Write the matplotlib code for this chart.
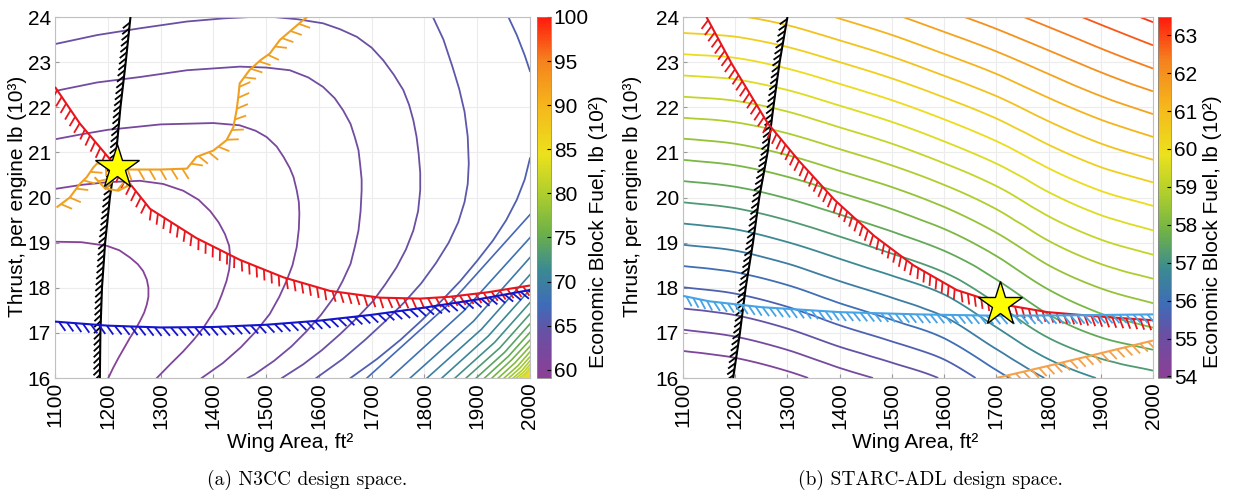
import numpy as np
import matplotlib
matplotlib.use("Agg")
import matplotlib.pyplot as plt
import matplotlib.tri as mtri
from matplotlib.colors import LinearSegmentedColormap, Normalize
from matplotlib.collections import LineCollection
from matplotlib.cm import ScalarMappable

plt.rcParams["font.family"] = ["Liberation Sans", "DejaVu Sans"]

wing_area = [1100, 1200, 1300, 1400, 1500, 1600, 1700, 1800, 1900, 2000]
thrust = [16, 17, 18, 19, 20, 21, 22, 23, 24]

# (a) N3CC fuel contours (level in 10^2 lb)
c60_area = [1100, 1150, 1198, 1222, 1242, 1257, 1267, 1274, 1277, 1277, 1274, 1269, 1261, 1252, 1242, 1220, 1210, 1201]
c60_thrust = [19.02, 19.01, 18.93, 18.83, 18.67, 18.52, 18.37, 18.18, 18.0, 17.8, 17.63, 17.45, 17.26, 17.07, 16.89, 16.44, 16.22, 16.0]
c61_area = [1100, 1150, 1200, 1261, 1305, 1343, 1372, 1394, 1410, 1422, 1430, 1432, 1430, 1425, 1416, 1406, 1381, 1363, 1343, 1318, 1293]
c61_thrust = [20.19, 20.28, 20.34, 20.37, 20.3, 20.15, 19.95, 19.7, 19.45, 19.19, 18.93, 18.67, 18.4, 18.15, 17.85, 17.56, 17.11, 16.85, 16.59, 16.3, 16.0]
c62_area = [1100, 1150, 1200, 1300, 1400, 1450, 1480, 1501, 1520, 1533, 1545, 1552, 1558, 1562, 1563, 1562, 1558,
            1550, 1539, 1525, 1507, 1482, 1452, 1418, 1378]
c62_thrust = [21.29, 21.4, 21.5, 21.62, 21.65, 21.6, 21.48, 21.34, 21.13, 20.9, 20.65, 20.45, 20.16, 19.9, 19.64, 19.3, 18.9,
              18.5, 18.16, 17.8, 17.42, 17.05, 16.68, 16.33, 16.0]
c63_area = [1100, 1180, 1261, 1350, 1450, 1500, 1545, 1580, 1608, 1630, 1646, 1660, 1668, 1675, 1678, 1681, 1681, 1679,
            1675, 1668, 1660, 1645, 1628, 1604, 1577, 1548, 1515, 1478, 1465]
c63_thrust = [22.36, 22.55, 22.67, 22.82, 22.9, 22.88, 22.82, 22.66, 22.45, 22.2, 21.93, 21.63, 21.34, 21.05, 20.75, 20.4, 20.16, 19.7,
              19.27, 18.9, 18.53, 18.15, 17.78, 17.4, 17.04, 16.7, 16.38, 16.08, 16.0]
c64_area = [1100, 1180, 1261, 1350, 1420, 1470, 1514, 1560, 1608, 1640, 1672, 1700, 1722, 1742, 1760, 1771, 1779, 1785,
            1789, 1792, 1792, 1788, 1779, 1765, 1747, 1726, 1703, 1672, 1640, 1606, 1570, 1530]
c64_thrust = [23.4, 23.6, 23.75, 23.9, 23.97, 24.0, 24.0, 23.95, 23.86, 23.73, 23.56, 23.32, 23.04, 22.72, 22.38, 22.05, 21.71, 21.35,
              20.97, 20.55, 20.16, 19.7, 19.27, 18.85, 18.45, 18.08, 17.71, 17.33, 16.97, 16.62, 16.3, 16.0]
c65_area = [1816, 1836, 1853, 1866, 1876, 1882, 1884, 1882, 1876, 1864, 1846, 1822, 1794, 1762, 1725, 1688, 1645, 1595]
c65_thrust = [24.0, 23.5, 22.9, 22.4, 21.9, 21.35, 20.75, 20.3, 19.9, 19.45, 19.0, 18.55, 18.1, 17.68, 17.25, 16.85, 16.42, 16.0]
c66_top_area = [1959, 1975, 1990, 2000]
c66_top_thrust = [24.0, 23.6, 23.15, 22.8]
c66_low_area = [2000, 1990, 1975, 1955, 1930, 1900, 1868, 1833, 1795, 1755, 1710, 1660]
c66_low_thrust = [20.87, 20.4, 19.95, 19.5, 19.05, 18.6, 18.15, 17.72, 17.28, 16.85, 16.42, 16.0]
# dense lines in the lower-right corner: bottom crossing, bend point, right-edge crossing
corner_levels = [67, 68, 69, 70, 71, 72, 73, 74, 75, 76, 77, 78, 79, 80, 81, 82, 83, 84, 85, 86]
corner_bottom_area = [1691, 1735, 1773, 1805, 1833, 1858, 1879, 1898, 1914, 1928,
                      1940, 1951, 1960, 1968, 1974, 1980, 1985, 1989, 1993, 1996]
corner_mid_area = [1854, 1874, 1893, 1908, 1921, 1933, 1943, 1952, 1959, 1965,
                   1971, 1977, 1981, 1985, 1988, 1991, 1993, 1995, 1997, 1998]
corner_mid_thrust = [17.72, 17.48, 17.26, 17.08, 16.93, 16.79, 16.67, 16.57, 16.48, 16.40,
                     16.33, 16.27, 16.22, 16.17, 16.13, 16.10, 16.08, 16.06, 16.04, 16.02]
corner_edge_thrust = [19.62, 19.11, 18.67, 18.29, 17.96, 17.67, 17.42, 17.20, 17.01, 16.84,
                      16.70, 16.58, 16.47, 16.38, 16.30, 16.23, 16.18, 16.13, 16.08, 16.04]

# (b) STARC-ADL economic block fuel (10^2 lb), rows = thrust, cols = wing area
fuel_starc = [
    [53.89, 54.02, 54.27, 54.61, 54.91, 55.25, 55.85, 56.44, 56.83, 57.06],
    [54.74, 54.87, 55.12, 55.46, 55.76, 56.10, 56.70, 57.29, 57.68, 57.91],
    [55.59, 55.71, 55.95, 56.28, 56.58, 56.92, 57.46, 58.03, 58.41, 58.65],
    [56.44, 56.55, 56.79, 57.09, 57.40, 57.75, 58.23, 58.77, 59.15, 59.40],
    [57.29, 57.40, 57.62, 57.91, 58.21, 58.57, 59.00, 59.51, 59.89, 60.14],
    [58.14, 58.24, 58.45, 58.74, 59.04, 59.40, 59.80, 60.27, 60.65, 60.93],
    [59.00, 59.08, 59.28, 59.57, 59.87, 60.22, 60.60, 61.04, 61.41, 61.72],
    [59.85, 59.92, 60.12, 60.40, 60.70, 61.05, 61.41, 61.80, 62.17, 62.51],
    [60.70, 60.77, 60.95, 61.23, 61.53, 61.87, 62.21, 62.57, 62.93, 63.29],
]

# constraint boundaries, N3CC
n3cc_wall_area = [1185, 1186, 1189, 1195, 1204, 1216, 1224, 1234, 1243]
n3cc_wall_thrust = thrust
n3cc_red_area = [1100, 1147, 1217, 1280, 1368, 1450, 1533, 1621, 1716, 1792, 1848, 1920, 2000]
n3cc_red_thrust = [22.45, 21.64, 20.67, 19.75, 19.10, 18.62, 18.23, 17.93, 17.78, 17.76, 17.80, 17.90, 18.05]
n3cc_blue_area = wing_area
n3cc_blue_thrust = [17.25, 17.16, 17.12, 17.13, 17.18, 17.27, 17.40, 17.56, 17.74, 17.95]
n3cc_orange_area = [1103, 1128, 1147, 1160, 1173, 1185, 1200, 1217, 1242, 1300, 1350, 1368,
                    1400, 1425, 1438, 1444, 1447, 1450, 1469, 1490, 1507, 1526, 1548, 1570, 1578]
n3cc_orange_thrust = [19.78, 20.00, 20.30, 20.45, 20.67, 20.82, 20.72, 20.67, 20.62, 20.62, 20.64, 20.90,
                      21.04, 21.27, 21.56, 21.93, 22.20, 22.53, 22.83, 23.05, 23.19, 23.49, 23.71, 23.93, 24.00]
n3cc_orange2_area = [1175, 1195, 1220, 1245]
n3cc_orange2_thrust = [20.45, 20.20, 20.15, 20.30]
n3cc_opt = (1217, 20.67)

# constraint boundaries, STARC-ADL
starc_wall_area = [1196, 1209, 1220, 1234, 1246, 1262, 1273, 1285, 1300]
starc_wall_thrust = thrust
starc_red_area = [1145, 1194, 1262, 1323, 1390, 1466, 1541, 1624, 1707, 1798, 1911, 2000]
starc_red_thrust = [24.0, 22.95, 21.65, 20.80, 19.95, 19.15, 18.50, 17.95, 17.64, 17.46, 17.35, 17.28]
starc_blue_area = [1100, 1150, 1250, 1400, 1550, 1700, 1850, 2000]
starc_blue_thrust = [17.82, 17.70, 17.57, 17.46, 17.41, 17.38, 17.39, 17.41]
starc_orange_area = [1700, 1800, 1900, 2000]
starc_orange_thrust = [16.00, 16.27, 16.55, 16.83]
starc_opt = (1707, 17.65)

fuel_cmap = LinearSegmentedColormap.from_list("fuel", [
    (0.00, "#8c3f96"), (0.12, "#6a4fa3"), (0.20, "#3f6bb8"), (0.30, "#3b8a92"),
    (0.40, "#6cb04a"), (0.50, "#a9cc2e"), (0.62, "#ece11c"), (0.75, "#f5b81c"),
    (0.88, "#f5821e"), (1.00, "#ff1a0c")])

W, H = 1233, 493
fig = plt.figure(figsize=(W / 100, H / 100), dpi=100)


def box(x0, y0, x1, y1):
    return [x0 / W, 1 - y1 / H, (x1 - x0) / W, (y1 - y0) / H]


def grid_contours(ax, z, levels, norm):
    X, Y = np.meshgrid(wing_area, thrust)
    xn = (X.ravel() - wing_area[0]) / 100.0
    yn = Y.ravel() - thrust[0]
    tri = mtri.Triangulation(xn, yn)
    interp = mtri.CubicTriInterpolator(tri, np.ravel(z), kind="geom")
    tri_r, z_r = mtri.UniformTriRefiner(tri).refine_field(np.ravel(z), triinterpolator=interp, subdiv=4)
    tri_d = mtri.Triangulation(wing_area[0] + 100.0 * tri_r.x, thrust[0] + tri_r.y, tri_r.triangles)
    ax.tricontour(tri_d, z_r, levels=levels, cmap=fuel_cmap, norm=norm, linewidths=1.3, zorder=2)


def hatch(ax, xs, ys, color, turn, spacing=7.0, length=9.0, lw=1.3):
    p = ax.transData.transform(np.column_stack([xs, ys]))
    seg = np.diff(p, axis=0)
    d = np.hypot(seg[:, 0], seg[:, 1])
    s = np.concatenate([[0], np.cumsum(d)])
    t = np.arange(spacing / 2, s[-1], spacing)
    px = np.interp(t, s, p[:, 0])
    py = np.interp(t, s, p[:, 1])
    k = np.clip(np.searchsorted(s, t) - 1, 0, len(d) - 1)
    ux, uy = seg[k, 0] / d[k], seg[k, 1] / d[k]
    a = np.deg2rad(turn)
    vx = ux * np.cos(a) - uy * np.sin(a)
    vy = ux * np.sin(a) + uy * np.cos(a)
    start = np.column_stack([px, py])
    end = start + length * np.column_stack([vx, vy])
    inv = ax.transData.inverted()
    segs = np.stack([inv.transform(start), inv.transform(end)], axis=1)
    ax.add_collection(LineCollection(segs, colors=color, linewidths=lw, zorder=4))
    ax.plot(xs, ys, color=color, lw=lw + 0.2, zorder=4, solid_capstyle="butt")


def style_axes(ax):
    ax.set_xlim(1100, 2000)
    ax.set_ylim(16, 24)
    ax.set_xticks(wing_area)
    ax.set_xticklabels([str(v) for v in wing_area], rotation=90)
    ax.set_yticks(thrust)
    ax.tick_params(labelsize=15, direction="in", length=3, color="#999999", pad=3)
    ax.grid(True, color="#ececec", lw=0.8)
    ax.set_axisbelow(True)
    for sp in ax.spines.values():
        sp.set_color("#c0c0c0")
        sp.set_linewidth(0.8)


def colorbar(cax, norm, ticks):
    cb = fig.colorbar(ScalarMappable(norm=norm, cmap=fuel_cmap), cax=cax, ticks=ticks)
    cb.outline.set_edgecolor("#888888")
    cb.outline.set_linewidth(0.6)
    cax.tick_params(labelsize=15, length=3, direction="in", pad=2)
    return cb


# (a) N3CC
ax1 = fig.add_axes(box(55, 17, 530, 378))
style_axes(ax1)
norm1 = Normalize(59.06, 100)
arcs = [(60, c60_area, c60_thrust), (61, c61_area, c61_thrust), (62, c62_area, c62_thrust),
        (63, c63_area, c63_thrust), (64, c64_area, c64_thrust), (65, c65_area, c65_thrust),
        (66, c66_top_area, c66_top_thrust), (66, c66_low_area, c66_low_thrust)]
for lev, xs, ys in arcs:
    ax1.plot(xs, ys, color=fuel_cmap(norm1(lev)), lw=1.3, zorder=2)
x_edge, y_floor = ax1.get_xlim()[1], ax1.get_ylim()[0]
for lev, xb, xm, ym, ye in zip(corner_levels, corner_bottom_area, corner_mid_area, corner_mid_thrust, corner_edge_thrust):
    ax1.plot([xb, xm, x_edge], [y_floor, ym, ye], color=fuel_cmap(norm1(lev)), lw=1.2, zorder=2)
hatch(ax1, n3cc_wall_area, n3cc_wall_thrust, "black", 135, spacing=6, length=9)
hatch(ax1, n3cc_red_area, n3cc_red_thrust, "#e8161c", -65, spacing=8, length=11)
hatch(ax1, n3cc_blue_area, n3cc_blue_thrust, "#1414cc", -50, spacing=8, length=11)
hatch(ax1, n3cc_orange_area, n3cc_orange_thrust, "#f0a020", -60, spacing=11, length=12)
hatch(ax1, n3cc_orange2_area, n3cc_orange2_thrust, "#f0a020", 60, spacing=11, length=10)
ax1.plot(*n3cc_opt, marker="*", ms=33, mfc="#ffff00", mec="black", mew=1.0, zorder=6, clip_on=False)
cax1 = fig.add_axes(box(537, 17, 551, 378))
colorbar(cax1, norm1, [60, 65, 70, 75, 80, 85, 90, 95, 100])

# (b) STARC-ADL
ax2 = fig.add_axes(box(683, 17, 1153, 378))
style_axes(ax2)
norm2 = Normalize(53.96, 63.48)
grid_contours(ax2, fuel_starc, np.arange(54.4, 63.4, 0.4), norm2)
hatch(ax2, starc_wall_area, starc_wall_thrust, "black", 135, spacing=6, length=9)
hatch(ax2, starc_red_area, starc_red_thrust, "#e8161c", -65, spacing=7, length=11)
hatch(ax2, starc_blue_area, starc_blue_thrust, "#45a3e6", -50, spacing=7, length=11)
hatch(ax2, starc_orange_area, starc_orange_thrust, "#f5a04a", -60, spacing=8, length=11)
ax2.plot(*starc_opt, marker="*", ms=33, mfc="#ffff00", mec="black", mew=1.0, zorder=6, clip_on=False)
cax2 = fig.add_axes(box(1158, 17, 1171, 378))
colorbar(cax2, norm2, [54, 55, 56, 57, 58, 59, 60, 61, 62, 63])

# labels
ylab = "Thrust, per engine lb (10³)"
cblab = "Economic Block Fuel, lb (10²)"
xlab = "Wing Area, ft²"
narrow = ["Liberation Sans Narrow", "Liberation Sans", "DejaVu Sans"]
fig.text(18 / W, 1 - 196 / H, ylab, rotation=90, ha="center", va="center", fontsize=15)
fig.text(633 / W, 1 - 196 / H, ylab, rotation=90, ha="center", va="center", fontsize=15)
fig.text(598 / W, 1 - 232 / H, cblab, rotation=90, ha="center", va="center", fontsize=15)
fig.text(1213 / W, 1 - 232 / H, cblab, rotation=90, ha="center", va="center", fontsize=15)
fig.text(290 / W, 1 - 442 / H, xlab, ha="center", va="center", fontsize=15, family=narrow)
fig.text(915 / W, 1 - 442 / H, xlab, ha="center", va="center", fontsize=15, family=narrow)
fig.text(307 / W, 1 - 480 / H, "(a) N3CC design space.", ha="center", va="center", fontsize=14, family=["cmr10", "DejaVu Serif"])
fig.text(930 / W, 1 - 480 / H, "(b) STARC-ADL design space.", ha="center", va="center", fontsize=14, family=["cmr10", "DejaVu Serif"])

fig.savefig("out.png", dpi=100)
